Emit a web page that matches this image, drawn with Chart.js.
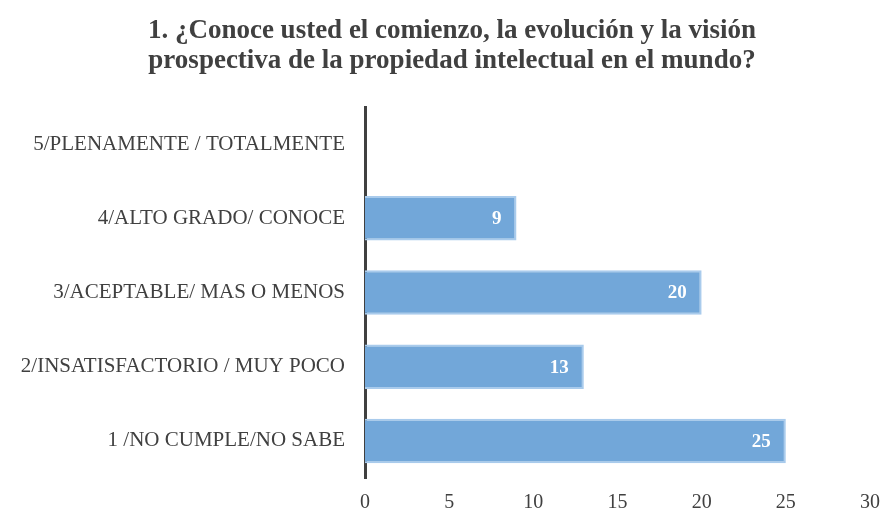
<!DOCTYPE html>
<html>
<head>
<meta charset="utf-8">
<script src="https://cdn.jsdelivr.net/npm/chart.js@4/dist/chart.umd.min.js"></script>
<style>
  html, body { margin: 0; padding: 0; background: #fff; }
  #wrap { width: 885px; height: 511px; }
</style>
</head>
<body>
<div id="wrap"><canvas id="chart"></canvas></div>
<script>
const titleLines = ['1. ¿Conoce usted el comienzo, la evolución y la visión', 'prospectiva de la propiedad intelectual en el mundo?'];
const categories = [
    '5/PLENAMENTE / TOTALMENTE',
    '4/ALTO GRADO/ CONOCE',
    '3/ACEPTABLE/ MAS O MENOS',
    '2/INSATISFACTORIO / MUY POCO',
    '1 /NO CUMPLE/NO SABE'
];
const values = [0, 9, 20, 13, 25];
const xTicks = [0, 5, 10, 15, 20, 25, 30];

const serif = '"Liberation Serif", "Times New Roman", serif';

// title drawn by hand so it can sit a bit right of the canvas centre, like the original
const titleText = {
    id: 'titleText',
    afterDraw(chart) {
        const ctx = chart.ctx;
        ctx.save();
        ctx.font = 'bold 27px ' + serif;
        ctx.fillStyle = '#404040';
        ctx.textAlign = 'center';
        ctx.textBaseline = 'middle';
        titleLines.forEach((line, i) => ctx.fillText(line, 452, 31 + i * 30));
        ctx.restore();
    }
};

// draws the white value labels inside the bar ends
const valueLabels = {
    id: 'valueLabels',
    afterDatasetsDraw(chart) {
        const ctx = chart.ctx;
        const meta = chart.getDatasetMeta(0);
        ctx.save();
        ctx.font = 'bold 19px ' + serif;
        ctx.fillStyle = '#ffffff';
        ctx.textAlign = 'right';
        ctx.textBaseline = 'middle';
        meta.data.forEach((bar, i) => {
            if (!values[i]) return;
            ctx.fillText(String(values[i]), bar.x - 15, bar.y + 1);
        });
        ctx.restore();
    }
};

const ctx = document.getElementById('chart').getContext('2d');
new Chart(ctx, {
    type: 'bar',
    data: {
        labels: categories,
        datasets: [{
            data: values,
            backgroundColor: '#72a7d9',
            borderColor: '#a9cbec',
            borderWidth: 2,
            borderSkipped: 'left',
            barPercentage: 0.6,
            categoryPercentage: 1
        }]
    },
    options: {
        indexAxis: 'y',
        responsive: true,
        maintainAspectRatio: false,
        animation: false,
        layout: { padding: { left: 20, right: 15, top: 107, bottom: 0 } },
        plugins: {
            legend: { display: false },
            tooltip: { enabled: false },
            title: { display: false }
        },
        scales: {
            x: {
                min: 0,
                max: 30,
                afterBuildTicks: scale => { scale.ticks = xTicks.map(v => ({ value: v })); },
                grid: { display: false, drawTicks: false },
                border: { display: false },
                ticks: {
                    color: '#404040',
                    padding: 13,
                    font: { family: serif, size: 20 }
                },
                afterFit: scale => {
                    scale.height = 33;
                    scale.paddingLeft = 0;
                    scale.paddingRight = 0;
                }
            },
            y: {
                grid: { display: false, drawTicks: false },
                border: { display: true, color: '#404040', width: 3 },
                ticks: {
                    color: '#404040',
                    padding: 20,
                    font: { family: serif, size: 21 }
                },
                afterFit: scale => { scale.width = 345; }
            }
        }
    },
    plugins: [valueLabels, titleText]
});
</script>
</body>
</html>
